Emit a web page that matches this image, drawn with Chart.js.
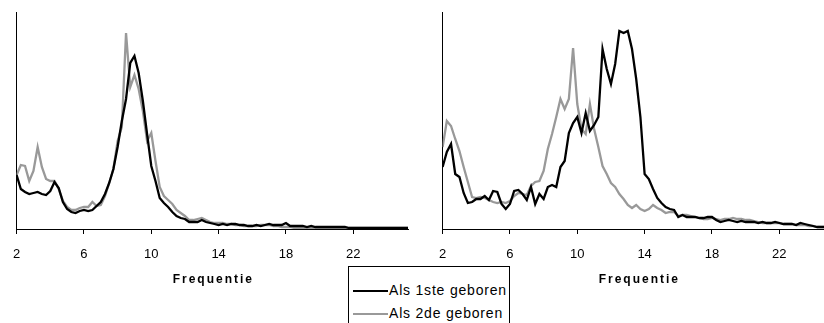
<!DOCTYPE html>
<html>
<head>
<meta charset="utf-8">
<script src="https://cdn.jsdelivr.net/npm/chart.js@4.4.0/dist/chart.umd.min.js"></script>
<style>
  html, body { margin: 0; padding: 0; background: #fff; overflow: hidden; width: 824px; height: 323px; }
  body { position: relative; font-family: "Liberation Sans", Arial, sans-serif; }
  canvas { position: absolute; top: 0; }
  #left { left: 0; }
  #right { left: 426px; }
  #legend { position: absolute; left: 348px; top: 266px; width: 162px; height: 64px; border: 1px solid #000; box-sizing: border-box; background: #fff; }
  .row { position: absolute; left: 4px; height: 16px; line-height: 16px; font-size: 14px; letter-spacing: 0.8px; white-space: nowrap; color: #000; }
  .swatch { display: inline-block; width: 35px; height: 2px; vertical-align: middle; margin-right: 1px; }
</style>
</head>
<body>
<canvas id="left" width="420" height="300"></canvas>
<canvas id="right" width="420" height="300"></canvas>
<div id="legend"></div>
<script>
// frequency bins (Hz)
const freqs = [2, 2.25, 2.5, 2.75, 3, 3.25, 3.5, 3.75, 4, 4.25, 4.5, 4.75, 5, 5.25, 5.5, 5.75,
  6, 6.25, 6.5, 6.75, 7, 7.25, 7.5, 7.75, 8, 8.25, 8.5, 8.75, 9, 9.25, 9.5, 9.75,
  10, 10.25, 10.5, 10.75, 11, 11.25, 11.5, 11.75, 12, 12.25, 12.5, 12.75, 13, 13.25, 13.5, 13.75,
  14, 14.25, 14.5, 14.75, 15, 15.25, 15.5, 15.75, 16, 16.25, 16.5, 16.75, 17, 17.25, 17.5, 17.75,
  18, 18.25, 18.5, 18.75, 19, 19.25, 19.5, 19.75, 20, 20.25, 20.5, 20.75, 21, 21.25, 21.5, 21.75,
  22, 22.25, 22.5, 22.75, 23, 23.25, 23.5, 23.75, 24, 24.25, 24.5, 24.75, 25, 25.25];

const tickValues = [2, 6, 10, 14, 18, 22];
const xTitle = "Frequentie";
const seriesNames = ["Als 1ste geboren", "Als 2de geboren"];
const seriesColors = ["#000000", "#999999"];

// left panel
const eersteLeft = [54, 40, 37, 35, 36, 37, 35, 34, 38, 47,
  41, 27, 20, 17, 16, 18, 19, 18, 19, 23,
  27, 35, 46, 60, 82, 108, 130, 166, 173, 156,
  128, 95, 63, 48, 31, 26, 22, 17, 13, 11,
  10, 7, 7, 7, 9, 7, 6, 5, 4, 5,
  4, 5, 5, 4, 4, 3, 3, 4, 3, 4,
  5, 4, 4, 4, 6, 3, 3, 3, 3, 2,
  3, 2, 2, 2, 2, 2, 2, 2, 2, 1,
  1, 1, 1, 1, 1, 1, 1, 1, 1, 1,
  1, 1, 1, 1];
const tweedeLeft = [54, 64, 63, 48, 58, 82, 62, 50, 48, 48,
  40, 28, 22, 19, 19, 21, 22, 22, 27, 23,
  24, 33, 46, 60, 88, 102, 196, 142, 154, 140,
  118, 88, 96, 68, 42, 33, 29, 25, 19, 16,
  13, 9, 9, 10, 11, 9, 7, 6, 6, 6,
  5, 5, 4, 4, 3, 3, 3, 3, 4, 4,
  4, 3, 3, 2, 2, 2, 1, 1, 1, 1,
  1, 1, 1, 1, 1, 1, 1, 1, 1, 1,
  1, 1, 1, 1, 1, 1, 1, 1, 1, 1,
  1, 1, 1, 1];

// right panel
const eersteRight = [62, 77, 85, 55, 52, 36, 26, 27, 30, 30,
  33, 29, 38, 37, 25, 20, 25, 38, 39, 35,
  29, 42, 25, 35, 30, 42, 44, 42, 62, 68,
  96, 106, 112, 96, 116, 98, 104, 112, 180, 160,
  145, 165, 198, 196, 198, 180, 150, 112, 55, 50,
  40, 31, 26, 22, 20, 19, 12, 14, 12, 12,
  12, 11, 11, 12, 12, 9, 7, 8, 9, 8,
  7, 8, 7, 7, 7, 6, 7, 6, 6, 7,
  6, 5, 5, 5, 4, 6, 5, 4, 3, 2,
  2, 2, 2, 2];
const tweedeRight = [82, 108, 103, 90, 78, 62, 47, 32, 31, 32,
  31, 29, 27, 26, 27, 26, 28, 33, 36, 35,
  34, 43, 47, 48, 58, 80, 95, 112, 130, 120,
  130, 181, 125, 100, 95, 125, 100, 82, 63, 55,
  46, 42, 35, 30, 24, 21, 24, 20, 18, 20,
  24, 21, 19, 16, 17, 17, 13, 14, 14, 13,
  12, 11, 10, 10, 11, 10, 9, 10, 10, 11,
  10, 10, 9, 9, 8, 7, 6, 6, 6, 6,
  6, 5, 5, 5, 4, 4, 4, 3, 3, 2,
  2, 2, 2, 2];

// bold spaced axis title under each panel
const axisTitle = {
  id: "axisTitle",
  afterDraw(chart) {
    const { ctx, chartArea } = chart;
    ctx.save();
    ctx.font = 'bold 12px "Liberation Sans", Arial, sans-serif';
    ctx.letterSpacing = "2px";
    ctx.fillStyle = "#000";
    ctx.textAlign = "center";
    ctx.textBaseline = "alphabetic";
    ctx.fillText(xTitle, (chartArea.left + chartArea.right) / 2 + 1, 283);
    ctx.restore();
  },
};

function makeChart(id, first, second) {
  const toPoints = (vals) => freqs.map((f, i) => ({ x: f, y: vals[i] }));
  return new Chart(document.getElementById(id), {
    type: "line",
    data: {
      datasets: [
        { label: seriesNames[0], data: toPoints(first), borderColor: seriesColors[0], borderWidth: 2.3, pointRadius: 0, tension: 0 },
        { label: seriesNames[1], data: toPoints(second), borderColor: seriesColors[1], borderWidth: 2.3, pointRadius: 0, tension: 0 },
      ],
    },
    options: {
      responsive: false,
      animation: false,
      layout: { padding: { left: 11, top: 12, right: 12, bottom: 0 } },
      plugins: { legend: { display: false }, tooltip: { enabled: false } },
      scales: {
        x: {
          type: "linear",
          min: 2,
          max: 25.25,
          afterBuildTicks: (axis) => { axis.ticks = tickValues.map((v) => ({ value: v })); },
          afterFit: (axis) => { axis.height = 71; },
          grid: { display: true, drawOnChartArea: false, drawTicks: true, tickLength: 5, color: "#000" },
          border: { display: true, color: "#000", width: 1 },
          ticks: { color: "#000", padding: 13, maxRotation: 0, autoSkip: false, font: { family: '"Liberation Sans", Arial, sans-serif', size: 13 } },
        },
        y: {
          min: 0,
          max: 217,
          afterFit: (axis) => { axis.width = 0; },
          grid: { display: false, drawTicks: false },
          border: { display: true, color: "#000", width: 1 },
          ticks: { display: false },
        },
      },
    },
    plugins: [axisTitle],
  });
}

makeChart("left", eersteLeft, tweedeLeft);
makeChart("right", eersteRight, tweedeRight);

// shared legend box between the panels
const legend = document.getElementById("legend");
seriesNames.forEach((name, i) => {
  const row = document.createElement("div");
  row.className = "row";
  row.style.top = (15 + i * 23) + "px";
  const sw = document.createElement("span");
  sw.className = "swatch";
  sw.style.background = seriesColors[i];
  row.appendChild(sw);
  row.appendChild(document.createTextNode(name));
  legend.appendChild(row);
});
</script>
</body>
</html>
